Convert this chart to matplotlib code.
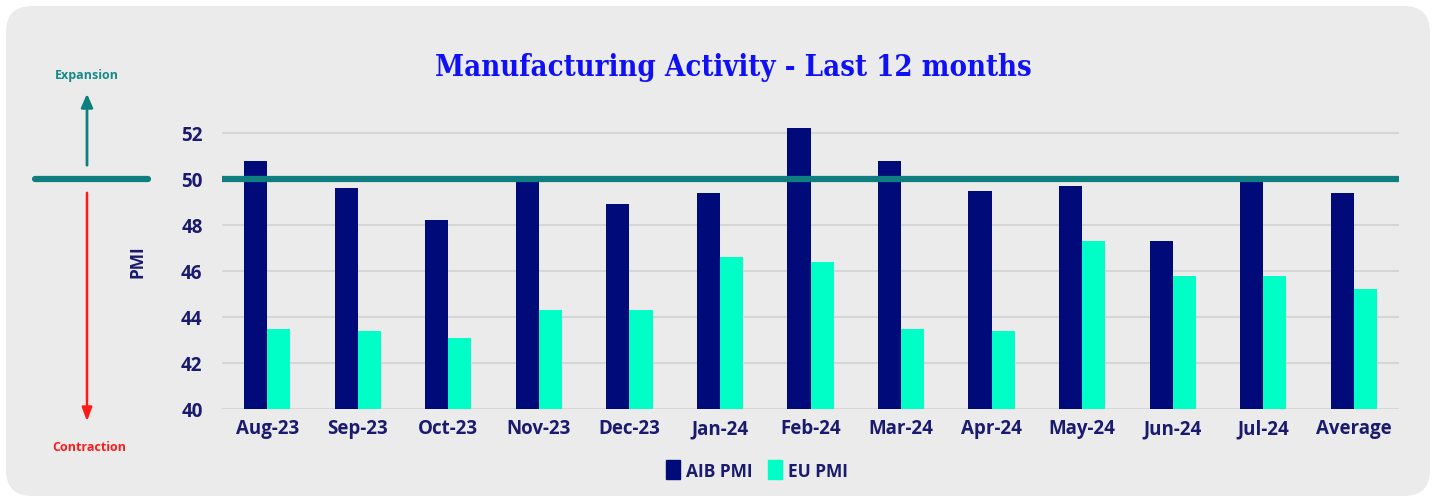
import numpy as np
import matplotlib
matplotlib.use("Agg")
import matplotlib.pyplot as plt
from matplotlib.patches import FancyBboxPatch, Patch
from matplotlib.lines import Line2D
from matplotlib.transforms import IdentityTransform

# data
months = ["Aug-23", "Sep-23", "Oct-23", "Nov-23", "Dec-23", "Jan-24",
          "Feb-24", "Mar-24", "Apr-24", "May-24", "Jun-24", "Jul-24", "Average"]
aib_pmi = [50.8, 49.6, 48.2, 50.0, 48.9, 49.4, 52.2, 50.8, 49.5, 49.7, 47.3, 49.9, 49.4]
eu_pmi = [43.5, 43.4, 43.1, 44.3, 44.3, 46.6, 46.4, 43.5, 43.4, 47.3, 45.8, 45.8, 45.2]
y_ticks = [40, 42, 44, 46, 48, 50, 52]
threshold = 50

NAVY = "#000a78"
AQUA = "#00ffc6"
TEAL = "#0e7f7e"
TXT = "#1a1a6e"

W, H = 1437, 502
fig = plt.figure(figsize=(W / 100, H / 100), dpi=100)
fig.patch.set_facecolor("white")

# rounded grey panel behind everything
panel = FancyBboxPatch((6, 5), 1424, 490, boxstyle="round,pad=0,rounding_size=26",
                       facecolor="#ebebeb", edgecolor="none")
panel.set_transform(IdentityTransform())
fig.add_artist(panel)
panel.set_zorder(-10)

ax = fig.add_axes([222 / W, 1 - 410 / H, (1399 - 222) / W, 299 / H])
ax.set_facecolor("none")

x = np.arange(len(months))
bw = 0.255
ax.bar(x - bw / 2, aib_pmi, bw, color=NAVY, label="AIB PMI", zorder=3)
ax.bar(x + bw / 2, eu_pmi, bw, color=AQUA, label="EU PMI", zorder=3)
ax.axhline(threshold, color=TEAL, lw=4.5, solid_capstyle="round", zorder=4)

ax.set_ylim(40, 53)
ax.set_xlim(-0.5, len(months) - 0.5)
ax.set_yticks(y_ticks)
ax.set_xticks(x)
ax.set_xticklabels(months)
ax.grid(axis="y", color="#d6d6d6", lw=1.5, zorder=0)
for s in ax.spines.values():
    s.set_visible(False)
ax.tick_params(length=0, colors=TXT, labelsize=13.5)
ax.tick_params(axis="x", pad=6.5)
ax.tick_params(axis="y", pad=14)
for lab in ax.get_xticklabels() + ax.get_yticklabels():
    lab.set_fontfamily("Open Sans")
    lab.set_fontweight("bold")

fig.text(138 / W, 1 - 262 / H, "PMI", rotation=90, ha="center", va="center",
         color=TXT, fontsize=12.5, fontweight="bold", family="Open Sans")

fig.text(733 / W, 1 - 67 / H, "Manufacturing Activity - Last 12 months",
         ha="center", va="center", color="#1010f5", fontsize=21,
         family="DejaVu Serif", fontweight="bold", fontstretch="condensed")

# left-hand expansion / contraction guide
fig.add_artist(Line2D([35 / W, 148 / W], [1 - 180 / H, 1 - 180 / H], color=TEAL,
                      lw=4.5, solid_capstyle="round", transform=fig.transFigure))
ax.annotate("", xy=(87 / W, 1 - 92 / H), xytext=(87 / W, 1 - 169 / H),
            xycoords="figure fraction", textcoords="figure fraction",
            arrowprops=dict(arrowstyle="-|>,head_length=0.8,head_width=0.35",
                            color=TEAL, lw=2))
ax.annotate("", xy=(87 / W, 1 - 425 / H), xytext=(87 / W, 1 - 191 / H),
            xycoords="figure fraction", textcoords="figure fraction",
            arrowprops=dict(arrowstyle="-|>,head_length=0.8,head_width=0.3",
                            color="#ff1a1a", lw=1.8))
fig.text(87 / W, 1 - 75 / H, "Expansion", ha="center", va="center",
         color="#178a88", fontsize=9, fontweight="bold", family="Open Sans")
fig.text(89 / W, 1 - 448 / H, "Contraction", ha="center", va="center",
         color="#ff1a1a", fontsize=9, fontweight="bold", family="Open Sans")

handles = [Patch(color=NAVY), Patch(color=AQUA)]
leg = fig.legend(handles, ["AIB PMI", "EU PMI"], loc="center",
                 bbox_to_anchor=(757 / W, 1 - 471 / H), ncol=2, frameon=False,
                 handlelength=0.8, handleheight=1.25, handletextpad=0.35,
                 columnspacing=0.9, prop=dict(family="Open Sans", weight="bold", size=12.5))
for t in leg.get_texts():
    t.set_color(TXT)

fig.savefig("out.png", dpi=100, facecolor="white")
